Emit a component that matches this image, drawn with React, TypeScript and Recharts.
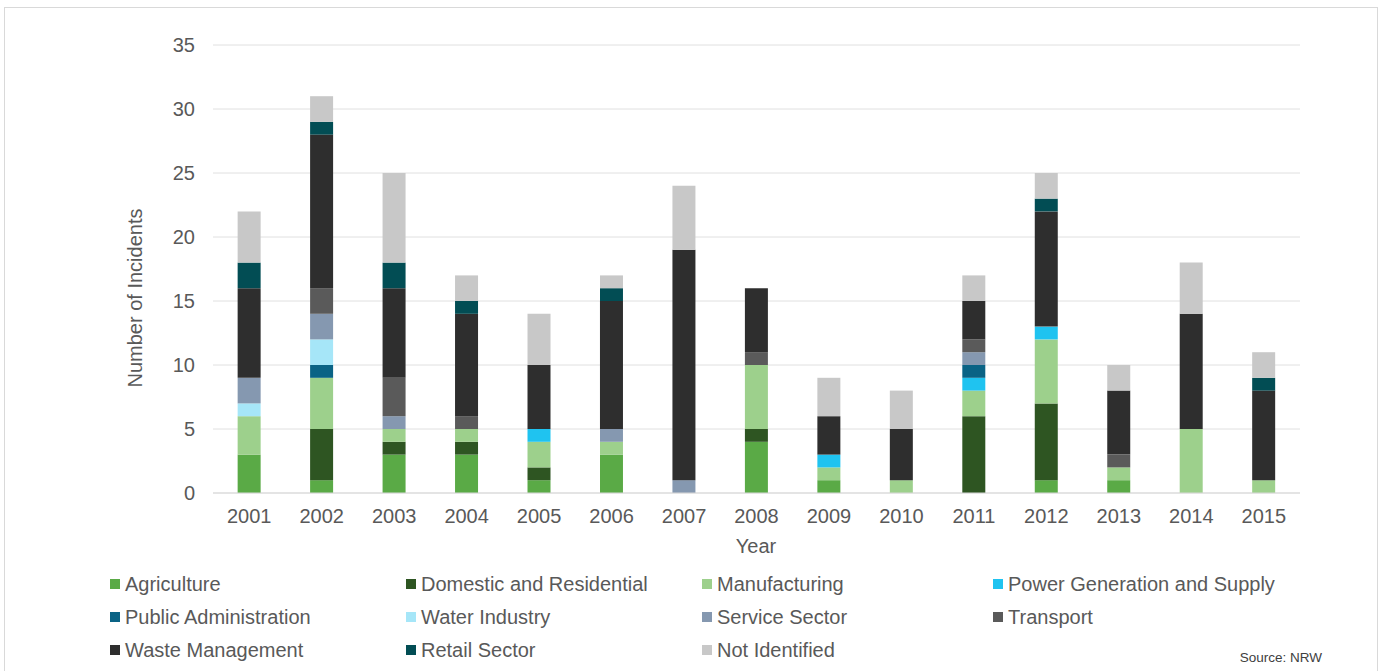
import React from "react";
import { BarChart, Bar, XAxis, YAxis, CartesianGrid, Legend } from "recharts";

const years = ["2001","2002","2003","2004","2005","2006","2007","2008","2009","2010","2011","2012","2013","2014","2015"];

const agriculture   = [3, 1, 3, 3, 1, 3, 0, 4, 1, 0, 0, 1, 1, 0, 0];
const domestic      = [0, 4, 1, 1, 1, 0, 0, 1, 0, 0, 6, 6, 0, 0, 0];
const manufacturing = [3, 4, 1, 1, 2, 1, 0, 5, 1, 1, 2, 5, 1, 5, 1];
const power         = [0, 0, 0, 0, 1, 0, 0, 0, 1, 0, 1, 1, 0, 0, 0];
const publicAdmin   = [0, 1, 0, 0, 0, 0, 0, 0, 0, 0, 1, 0, 0, 0, 0];
const water         = [1, 2, 0, 0, 0, 0, 0, 0, 0, 0, 0, 0, 0, 0, 0];
const service       = [2, 2, 1, 0, 0, 1, 1, 0, 0, 0, 1, 0, 0, 0, 0];
const transport     = [0, 2, 3, 1, 0, 0, 0, 1, 0, 0, 1, 0, 1, 0, 0];
const waste         = [7, 12, 7, 8, 5, 10, 18, 5, 3, 4, 3, 9, 5, 9, 7];
const retail        = [2, 1, 2, 1, 0, 1, 0, 0, 0, 0, 0, 1, 0, 0, 1];
const notIdentified = [4, 2, 7, 2, 4, 1, 5, 0, 3, 3, 2, 2, 2, 4, 2];

const yTicks = [0, 5, 10, 15, 20, 25, 30, 35];

const seriesDefs = [
  { key: "agriculture", name: "Agriculture", color: "#5aaa46", values: agriculture },
  { key: "domestic", name: "Domestic and Residential", color: "#2e5522", values: domestic },
  { key: "manufacturing", name: "Manufacturing", color: "#9dd08c", values: manufacturing },
  { key: "power", name: "Power Generation and Supply", color: "#1fc3f0", values: power },
  { key: "publicAdmin", name: "Public Administration", color: "#0a6385", values: publicAdmin },
  { key: "water", name: "Water Industry", color: "#a6e6f8", values: water },
  { key: "service", name: "Service Sector", color: "#8598b0", values: service },
  { key: "transport", name: "Transport", color: "#5a5a5a", values: transport },
  { key: "waste", name: "Waste Management", color: "#2e2e2e", values: waste },
  { key: "retail", name: "Retail Sector", color: "#024d54", values: retail },
  { key: "notIdentified", name: "Not Identified", color: "#c8c8c8", values: notIdentified },
];

const data = years.map((y, i) => {
  const row: Record<string, any> = { year: y };
  seriesDefs.forEach((s) => { row[s.key] = s.values[i]; });
  return row;
});

const FONT = "'Liberation Sans', Arial, sans-serif";
const TEXT = "#595959";

const legendCols = [110, 406, 702, 993];
const legendRows = [584, 617, 650];

const renderLegend = () => (
  <div style={{ position: "relative", width: 1384, height: 100 }}>
    {seriesDefs.map((s, i) => {
      const col = i % 4;
      const row = Math.floor(i / 4);
      return (
        <div
          key={s.key}
          style={{
            position: "absolute",
            left: legendCols[col],
            top: legendRows[row] - 13,
            height: 26,
            display: "flex",
            alignItems: "center",
            whiteSpace: "nowrap",
            fontFamily: FONT,
            fontSize: 20,
            color: TEXT,
          }}
        >
          <span style={{ display: "inline-block", width: 10, height: 10, background: s.color, marginRight: 5 }} />
          <span>{s.name}</span>
        </div>
      );
    })}
  </div>
);

export default function App() {
  return (
    <div style={{ position: "absolute", left: 0, top: 0, width: 1384, height: 671, background: "#fff", overflow: "hidden" }}>
      <div style={{ position: "absolute", left: 4, top: 7, width: 1374, height: 700, border: "1px solid #d9d9d9", boxSizing: "border-box" }} />
      <div style={{ position: "absolute", left: 0, top: 0 }}>
        <BarChart
          width={1384}
          height={671}
          data={data}
          margin={{ top: 45, right: 84, left: 153, bottom: 48 }}
          barCategoryGap="34%"
        >
          <CartesianGrid vertical={false} stroke="#e0e0e0" strokeWidth={1} />
          <XAxis
            dataKey="year"
            axisLine={{ stroke: "#d9d9d9" }}
            tickLine={false}
            tickMargin={10}
            height={30}
            tick={{ fill: TEXT, fontSize: 20, fontFamily: FONT }}
            label={{
              content: () => (
                <text x={756} y={553} textAnchor="middle" fill={TEXT} fontSize={20} fontFamily={FONT}>Year</text>
              ),
            }}
          />
          <YAxis
            width={60}
            domain={[0, 35]}
            ticks={yTicks}
            axisLine={false}
            tickLine={false}
            tickMargin={12}
            interval={0}
            tick={{ fill: TEXT, fontSize: 20, fontFamily: FONT }}
            label={{
              content: () => (
                <text x={142} y={298} transform="rotate(-90 142 298)" textAnchor="middle" fill={TEXT} fontSize={20} fontFamily={FONT}>Number of Incidents</text>
              ),
            }}
          />
          <Legend
            content={renderLegend}
            wrapperStyle={{ position: "absolute", left: 0, top: 0, width: 1384, height: 100 }}
          />
          {seriesDefs.map((s) => (
            <Bar key={s.key} dataKey={s.key} name={s.name} stackId="a" fill={s.color} isAnimationActive={false} />
          ))}
        </BarChart>
      </div>
      <div style={{ position: "absolute", right: 62, top: 650, fontFamily: FONT, fontSize: 13.5, color: "#404040" }}>Source: NRW</div>
    </div>
  );
}
